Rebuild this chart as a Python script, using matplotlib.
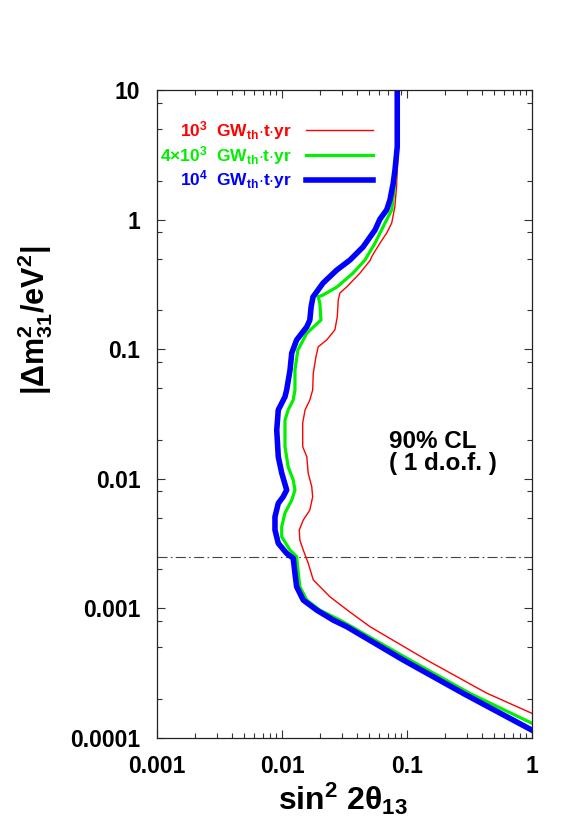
import matplotlib
matplotlib.use('Agg')
import matplotlib.pyplot as plt
from matplotlib.ticker import LogLocator, FixedLocator, FixedFormatter, NullFormatter

plt.rcParams['font.family'] = ['Liberation Sans', 'DejaVu Sans']
plt.rcParams['font.weight'] = 'bold'
plt.rcParams['axes.labelweight'] = 'bold'
plt.rcParams['mathtext.fontset'] = 'custom'
plt.rcParams['mathtext.rm'] = 'Liberation Sans:bold'
plt.rcParams['mathtext.it'] = 'Liberation Sans:bold'
plt.rcParams['mathtext.bf'] = 'Liberation Sans:bold'
plt.rcParams['mathtext.sf'] = 'Liberation Sans:bold'

# Data: sensitivity contours (sin^2 2theta13 vs |dm^2_31|)
red_dm2 = [10, 3.0, 1.8, 1.26, 0.942, 0.788, 0.659, 0.518, 0.488, 0.387, 0.303, 0.272,
           0.24, 0.178, 0.141, 0.118, 0.1045, 0.0875, 0.0655, 0.0484, 0.0406, 0.034,
           0.027, 0.0177, 0.0148, 0.0111, 0.0087, 0.00727, 0.00574, 0.00481, 0.00403,
           0.00337, 0.00282, 0.00224, 0.00166, 0.00123, 0.000937, 0.000723, 0.0004,
           0.000222, 0.000155]
red_s2 = [0.0850, 0.0845, 0.0825, 0.080, 0.0755, 0.0688, 0.0608, 0.0522, 0.0510, 0.0421,
          0.033, 0.0291, 0.0282, 0.0277, 0.0265, 0.0228, 0.0195, 0.0187, 0.0178, 0.0176,
          0.0167, 0.0153, 0.01465, 0.01465, 0.0158, 0.0162, 0.0173, 0.0176, 0.0167, 0.0148,
          0.01375, 0.0139, 0.0148, 0.0162, 0.0178, 0.0242, 0.035, 0.0506, 0.1438, 0.4345, 1.0]

green_dm2 = [10, 3.6, 2.2, 1.69, 1.19, 0.877, 0.659, 0.488, 0.387, 0.302, 0.262, 0.254,
             0.227, 0.168, 0.133, 0.0986, 0.0692, 0.0485, 0.0406, 0.034, 0.0284, 0.0177,
             0.0124, 0.0098, 0.0082, 0.00686, 0.00545, 0.00427, 0.00357, 0.00282, 0.00251,
             0.00188, 0.00147, 0.00116, 0.00097, 0.000813, 0.000723, 0.0004, 0.000221,
             0.00013]
green_s2 = [0.0840, 0.0835, 0.0810, 0.0787, 0.0755, 0.0643, 0.0555, 0.0461, 0.037, 0.0275,
            0.0213, 0.0195, 0.0201, 0.0205, 0.0158, 0.0134, 0.0127, 0.0127, 0.0123, 0.0112,
            0.01057, 0.01057, 0.0112, 0.0123, 0.0127, 0.01197, 0.01057, 0.00995, 0.00995,
            0.0116, 0.0131, 0.0135, 0.0139, 0.0158, 0.0201, 0.0291, 0.0361, 0.1057, 0.319,
            1.0]

blue_dm2 = [10, 3.65, 2.42, 1.91, 1.42, 1.19, 1.01, 0.832, 0.615, 0.488, 0.408, 0.324,
            0.253, 0.212, 0.168, 0.149, 0.118, 0.0935, 0.0692, 0.0485, 0.043, 0.034, 0.0238,
            0.0148, 0.0111, 0.0082, 0.00728, 0.00647, 0.0051, 0.00403, 0.00318, 0.00266,
            0.00244, 0.00187, 0.00147, 0.00116, 0.00097, 0.000813, 0.000723, 0.0004,
            0.000221, 0.000115]
blue_s2 = [0.0836, 0.0836, 0.0802, 0.0776, 0.0731, 0.0688, 0.0608, 0.0555, 0.0445, 0.035,
           0.0274, 0.0213, 0.0177, 0.0171, 0.0167, 0.0158, 0.0131, 0.01197, 0.0116, 0.0109,
           0.01057, 0.00934, 0.00908, 0.00934, 0.00995, 0.0109, 0.01023, 0.00934, 0.00879,
           0.00879, 0.00934, 0.0109, 0.0123, 0.0127, 0.0131, 0.0148, 0.019, 0.0257, 0.033,
           0.0934, 0.282, 1.0]

labels = [r'10$^{3}$  GW$_{th}$$\cdot$t$\cdot$yr',
          r'4$\times$10$^{3}$  GW$_{th}$$\cdot$t$\cdot$yr',
          r'10$^{4}$  GW$_{th}$$\cdot$t$\cdot$yr']

dm2_ref = 2.5e-3

xticks = [0.001, 0.01, 0.1, 1]
xticklabels = ['0.001', '0.01', '0.1', '1']
yticks = [0.0001, 0.001, 0.01, 0.1, 1, 10]
yticklabels = ['0.0001', '0.001', '0.01', '0.1', '1', '10']

# Layout
fig = plt.figure(figsize=(5.81, 8.30), dpi=100)
ax = fig.add_axes([0.2702, 0.1108, 0.6454, 0.7807])

# Plot
ax.axhline(dm2_ref, color='#444444', lw=0.8, ls='-.', dashes=(9, 3, 1.5, 3))
ax.plot(red_s2, red_dm2, color='#ff0000', lw=1.0, label=labels[0])
ax.plot(green_s2, green_dm2, color='#00f000', lw=2.3, label=labels[1],
        solid_joinstyle='round')
ax.plot(blue_s2, blue_dm2, color='#0000ff', lw=4.0, label=labels[2],
        solid_joinstyle='round')

# Details
ax.set_xscale('log')
ax.set_yscale('log')
ax.set_xlim(0.001, 1)
ax.set_ylim(0.0001, 10)

ax.xaxis.set_major_locator(FixedLocator(xticks))
ax.xaxis.set_major_formatter(FixedFormatter(xticklabels))
ax.yaxis.set_major_locator(FixedLocator(yticks))
ax.yaxis.set_major_formatter(FixedFormatter(yticklabels))
ax.xaxis.set_minor_locator(LogLocator(base=10, subs=range(2, 10)))
ax.yaxis.set_minor_locator(LogLocator(base=10, subs=[2, 5, 8]))
ax.xaxis.set_minor_formatter(NullFormatter())
ax.yaxis.set_minor_formatter(NullFormatter())

ax.tick_params(which='both', direction='in', top=True, right=True, width=0.8,
               color='#333333')
ax.tick_params(which='major', length=6, labelsize=16.5)
ax.tick_params(axis='x', which='major', pad=12.5)
ax.tick_params(axis='y', which='major', pad=12)
ax.tick_params(which='minor', length=3.5)
for lab in ax.get_xticklabels() + ax.get_yticklabels():
    lab.set_fontweight('bold')
for sp in ax.spines.values():
    sp.set_linewidth(0.9)
    sp.set_color('#222222')

ax.set_xlabel(r'sin$^{2}$ 2$\theta_{13}$', fontsize=23, fontweight='bold')
ax.xaxis.set_label_coords(0.496, -0.066)
ax.set_ylabel(r'|$\Delta$m$^{2}_{31}$/eV$^{2}$|', fontsize=22, fontweight='bold')
ax.yaxis.label.set_va('center')
ax.yaxis.set_label_coords(-0.325, 0.645)

ax.text(0.618, 0.44, '90% CL\n( 1 d.o.f. )', transform=ax.transAxes,
        fontsize=17.5, fontweight='bold', ha='left', va='center', linespacing=0.95)

leg = ax.legend(loc='upper right', bbox_to_anchor=(0.577, 0.955), frameon=False,
                markerfirst=False, labelcolor='linecolor', fontsize=12.5,
                handlelength=3.9, handletextpad=0.8, labelspacing=0.1,
                borderpad=0, borderaxespad=0)

# Output
fig.savefig('out.png', dpi=100)
